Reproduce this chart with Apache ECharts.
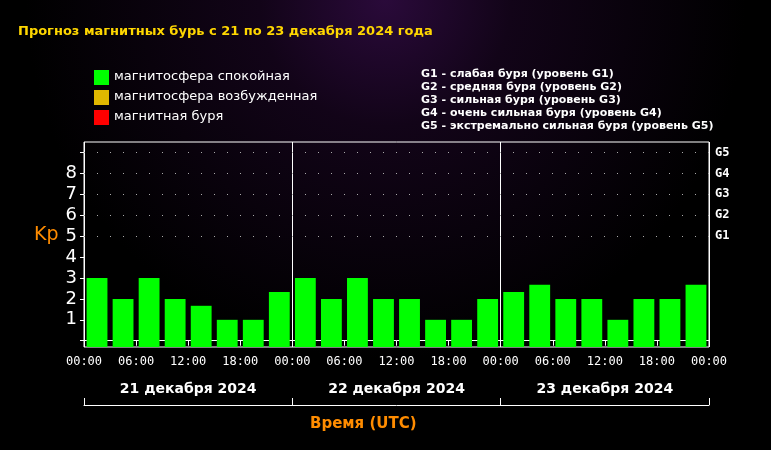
<!DOCTYPE html>
<html><head><meta charset="utf-8">
<script src="https://cdn.jsdelivr.net/npm/echarts@6/dist/echarts.min.js"></script>
<style>html,body{margin:0;padding:0;background:#000}#c{width:771px;height:450px}</style>
</head><body><div id="c"></div>
<script>
const days = ['21 декабря 2024','22 декабря 2024','23 декабря 2024'];
const kpValues = [3,2,3,2,1.67,1,1,2.33, 3,2,3,2,2,1,1,2, 2.33,2.67,2,2,1,2,2,2.67];
const gLevels = ['','','','','','G1','G2','G3','G4','G5'];
const legendItems = [['магнитосфера спокойная','#00ff00'],['магнитосфера возбужденная','#e0b800'],['магнитная буря','#ff0000']];
const gDescriptions = ['G1 - слабая буря (уровень G1)','G2 - средняя буря (уровень G2)','G3 - сильная буря (уровень G3)','G4 - очень сильная буря (уровень G4)','G5 - экстремально сильная буря (уровень G5)'];
const title = 'Прогноз магнитных бурь с 21 по 23 декабря 2024 года';
function color(v){return v>=5?'#ff0000':(v>=4?'#e0b800':'#00ff00');}
const chart = echarts.init(document.getElementById('c'));
const graphic = [
  {type:'text',left:18,top:25,style:{text:title,fill:'#ffd700',font:'bold 13px "DejaVu Sans"'}}
];
legendItems.forEach((l,i)=>{
  graphic.push({type:'rect',shape:{x:94,y:70+i*20,width:15,height:15},style:{fill:l[1]}});
  graphic.push({type:'text',left:114,top:70+i*20,style:{text:l[0],fill:'#fff',font:'13px "DejaVu Sans"'}});
});
gDescriptions.forEach((t,i)=>{
  graphic.push({type:'text',left:421,top:69+i*13,style:{text:t,fill:'#fff',font:'bold 11px "DejaVu Sans"'}});
});
graphic.push({type:'text',left:34,top:226,style:{text:'Kp',fill:'#ff8c00',font:'19px "DejaVu Sans"'}});
graphic.push({type:'text',left:310,top:417,style:{text:'Время (UTC)',fill:'#ff8c00',font:'bold 15px "DejaVu Sans"'}});
chart.setOption({
  backgroundColor:{type:'radial',x:0.5,y:0,r:0.8,colorStops:[{offset:0,color:'#2a0a3a'},{offset:0.35,color:'#120418'},{offset:1,color:'#000'}]},
  animation:false,
  graphic,
  grid:{left:84,right:62,top:142,bottom:103,show:true,borderColor:'#fff',borderWidth:1},
  xAxis:[
    {type:'value',min:0,max:72,interval:6,position:'bottom',
     axisLine:{show:true,lineStyle:{color:'#fff'}},axisTick:{show:true,length:5,lineStyle:{color:'#fff'}},
     axisLabel:{color:'#fff',fontFamily:'DejaVu Sans Mono',fontSize:12,margin:9,formatter:v=>v%12===0?String(v%24).padStart(2,'0')+':00':(String(v%24).padStart(2,'0')+':00'),
       showMinLabel:true,showMaxLabel:true,
       interval:0},
     splitLine:{show:false}},
    {type:'value',min:0,max:72,interval:24,position:'top',axisLabel:{show:false},axisTick:{show:false},axisLine:{show:false},
     splitLine:{show:true,lineStyle:{color:'#fff',width:1}}},
    {type:'category',data:days,position:'bottom',offset:58,gridIndex:0,
     axisLine:{show:true,lineStyle:{color:'#fff'}},axisTick:{show:true,inside:true,length:7,lineStyle:{color:'#fff'}},
     axisLabel:{inside:true,color:'#fff',fontWeight:'bold',fontSize:14,fontFamily:'DejaVu Sans',margin:9}}
  ],
  yAxis:[
    {type:'value',min:-0.3,max:9.5,interval:1,position:'left',
     axisLine:{show:false},axisTick:{show:false},splitLine:{show:false},
     axisLabel:{color:'#fff',fontSize:18,fontFamily:'DejaVu Sans',margin:7,showMinLabel:false,showMaxLabel:false,
       customValues:[0,1,2,3,4,5,6,7,8,9]}},
    {type:'value',min:-0.3,max:9.5,position:'right',
     axisLine:{show:false},axisTick:{show:true,inside:true,length:4,lineStyle:{color:'#fff'},customValues:[0,1,2,3,4,5,6,7,8,9]},splitLine:{show:false},
     axisLabel:{color:'#fff',fontSize:12,fontWeight:'bold',fontFamily:'DejaVu Sans Mono',margin:6,customValues:[5,6,7,8,9],formatter:v=>gLevels[Math.round(v)]}}
  ],
  series:[{
    type:'custom',xAxisIndex:0,yAxisIndex:0,
    data:kpValues.map((v,i)=>[i*3+1.5,v]),
    renderItem:(params,api)=>{
      const x=api.value(0),v=api.value(1);
      const p1=api.coord([x-1.2,v]),p2=api.coord([x+1.2,-0.3]);
      return {type:'rect',shape:{x:p1[0],y:p1[1],width:p2[0]-p1[0],height:p2[1]-p1[1]},style:{fill:color(v)}};
    },
    markLine:{silent:true,symbol:'none',label:{show:false},
      lineStyle:{color:'#aaa',type:[1,12],width:1},
      data:[5,6,7,8,9].map(y=>({yAxis:y}))}
  }]
});
</script></body></html>
